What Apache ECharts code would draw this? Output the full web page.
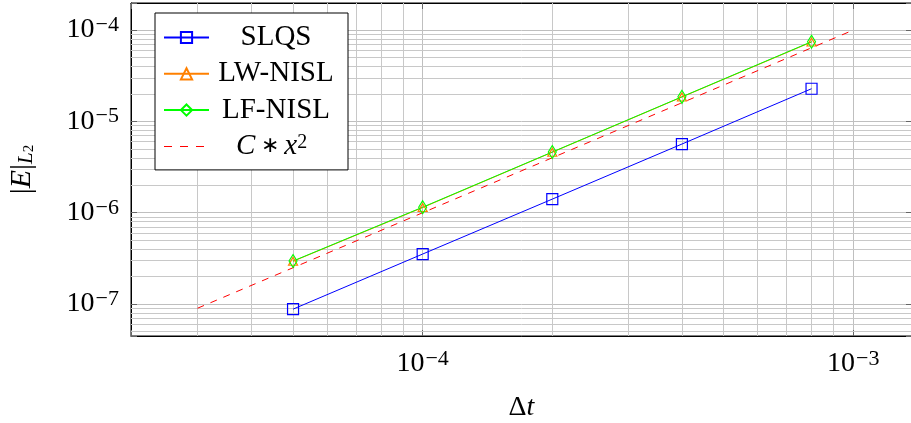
<!DOCTYPE html>
<html>
<head>
<meta charset="utf-8">
<script src="https://cdn.jsdelivr.net/npm/echarts@6/dist/echarts.min.js"></script>
<style>html,body{margin:0;padding:0;background:#fff}#main{width:911px;height:423px}</style>
</head>
<body>
<div id="main"></div>
<script>
// step sizes and errors
var dtList=[5e-5,1e-4,2e-4,4e-4,8e-4];
var slqsErr=[8.8e-8,3.53e-7,1.41e-6,5.65e-6,2.28e-5];
var lwErr=[2.94e-7,1.14e-6,4.6e-6,1.85e-5,7.4e-5];
var lfErr=[2.96e-7,1.15e-6,4.62e-6,1.86e-5,7.46e-5];
// reference line C*x^2
var refX=[3e-5,1e-3];
var refY=[9e-8,1e-4];
// axis ranges
var xLo=2.102e-5, xHi=1.369e-3;
var yLo=4.47e-8, yHi=1.98e-4;
// minor grid positions
var xMinor=[3e-5,4e-5,5e-5,6e-5,7e-5,8e-5,9e-5,2e-4,3e-4,4e-4,5e-4,6e-4,7e-4,8e-4,9e-4];
var yMinor=[5e-8,6e-8,7e-8,8e-8,9e-8,2e-7,3e-7,4e-7,5e-7,6e-7,7e-7,8e-7,9e-7,
  2e-6,3e-6,4e-6,5e-6,6e-6,7e-6,8e-6,9e-6,2e-5,3e-5,4e-5,5e-5,6e-5,7e-5,8e-5,9e-5];

var FONT='Liberation Serif';
var chart=echarts.init(document.getElementById('main'));

function pairs(xs,ys){
  var out=[];
  for(var i=0;i<xs.length;i++){out.push([xs[i],ys[i]]);}
  return out;
}
function powLabel(v){
  var l=Math.log10(v);
  var e=Math.round(l);
  if(Math.abs(l-e)>1e-6){return '';}
  return '{b|10}{s|−'+(-e)+'}';
}
var powRich={
  b:{fontFamily:FONT,fontSize:28,color:'#000',lineHeight:32},
  s:{fontFamily:FONT,fontSize:22,color:'#000',verticalAlign:'top',lineHeight:20,padding:[0,0,0,1]}
};

// minor grid segments spanning the axis range
var gridSegs=[];
xMinor.forEach(function(v){gridSegs.push({coords:[[v,yLo],[v,yHi]]});});
yMinor.forEach(function(v){gridSegs.push({coords:[[xLo,v],[xHi,v]]});});

// dashed icon for the reference line in the legend
var dashIcon='path://M0,0h0.05v0.05h-0.05zM0,6.5h8v1h-8zM16,6.5h8v1h-8zM32,6.5h8v1h-8zM44.95,13.95h0.05v0.05h-0.05z';

var option={
  animation:false,
  grid:{left:131,top:3,right:-1,bottom:87,outerBoundsMode:'none',containLabel:false,
    show:true,borderColor:'#000',borderWidth:1,backgroundColor:'#fff'},
  legend:{
    data:['SLQS','LW-NISL','LF-NISL',{name:'C*x^2',icon:dashIcon}],
    left:155,top:13,orient:'vertical',
    backgroundColor:'#fff',borderColor:'#000',borderWidth:1,borderRadius:0,
    padding:[10,10,9,8],
    itemWidth:45,itemHeight:14,itemGap:7.3,
    formatter:function(n){
      if(n==='C*x^2'){return '{i0|C}{t| ∗ }{i|x}{s|2}';}
      return '{c|'+n+'}';
    },
    textStyle:{
      fontFamily:FONT,fontSize:28,color:'#000',
      rich:{
        c:{fontFamily:FONT,fontSize:29,width:124,align:'center',lineHeight:28},
        i0:{fontFamily:FONT,fontSize:29,fontStyle:'italic',lineHeight:28,padding:[0,0,0,22]},
        i:{fontFamily:FONT,fontSize:29,fontStyle:'italic',lineHeight:28},
        t:{fontFamily:FONT,fontSize:22,lineHeight:28},
        s:{fontFamily:FONT,fontSize:20,verticalAlign:'top',lineHeight:19}
      }
    }
  },
  xAxis:[{
    type:'log',logBase:10,min:xLo,max:xHi,
    name:'Δ{i|t}',nameLocation:'middle',nameGap:58,
    nameTextStyle:{fontFamily:FONT,fontSize:28,color:'#000',
      rich:{i:{fontFamily:FONT,fontSize:28,fontStyle:'italic'}}},
    axisLine:{show:true,lineStyle:{color:'#000',width:1}},
    axisTick:{show:true,inside:true,length:6,lineStyle:{color:'#666'}},
    axisLabel:{formatter:powLabel,margin:12,rich:powRich},
    splitLine:{show:true,showMinLine:false,showMaxLine:false,lineStyle:{color:'#bfbfbf',width:1}}
  },{
    type:'log',logBase:10,min:xLo,max:xHi,position:'top',
    axisLine:{show:true,lineStyle:{color:'#000',width:1}},
    axisTick:{show:true,inside:true,length:6,lineStyle:{color:'#666'}},
    axisLabel:{show:false},splitLine:{show:false}
  }],
  yAxis:[{
    type:'log',logBase:10,min:yLo,max:yHi,
    name:'|{i|E}|{sub|L}{sub2|2}',nameLocation:'middle',nameGap:94,nameRotate:90,
    nameTextStyle:{fontFamily:FONT,fontSize:30,color:'#000',
      rich:{
        i:{fontFamily:FONT,fontSize:30,fontStyle:'italic'},
        sub:{fontFamily:FONT,fontSize:21,fontStyle:'italic',verticalAlign:'bottom',padding:[8,0,0,0]},
        sub2:{fontFamily:FONT,fontSize:15,verticalAlign:'bottom',padding:[12,0,0,0]}
      }},
    axisLine:{show:true,lineStyle:{color:'#000',width:1}},
    axisTick:{show:true,inside:true,length:6,lineStyle:{color:'#666'}},
    axisLabel:{formatter:powLabel,margin:12,rich:powRich},
    splitLine:{show:true,showMinLine:false,showMaxLine:false,lineStyle:{color:'#bfbfbf',width:1}}
  },{
    type:'log',logBase:10,min:yLo,max:yHi,position:'right',
    axisLine:{show:true,lineStyle:{color:'#000',width:1}},
    axisTick:{show:true,inside:true,length:6,lineStyle:{color:'#666'}},
    axisLabel:{show:false},splitLine:{show:false}
  }],
  series:[
    {
      name:'minorGrid',type:'lines',coordinateSystem:'cartesian2d',z:1,silent:true,
      polyline:false,effect:{show:false},
      lineStyle:{color:'#c8c8c8',width:1,opacity:1,curveness:0},
      data:gridSegs
    },
    {
      name:'SLQS',type:'line',data:pairs(dtList,slqsErr),z:3,
      symbol:'rect',symbolSize:11,
      lineStyle:{color:'#0000ff',width:1},
      itemStyle:{color:'rgba(0,0,0,0)',borderColor:'#0000ff',borderWidth:1.2}
    },
    {
      name:'LW-NISL',type:'line',data:pairs(dtList,lwErr),z:3,
      symbol:'triangle',symbolSize:[9,8],
      lineStyle:{color:'#ff8000',width:1},
      itemStyle:{color:'rgba(0,0,0,0)',borderColor:'#ff8000',borderWidth:1.2}
    },
    {
      name:'LF-NISL',type:'line',data:pairs(dtList,lfErr),z:3,
      symbol:'diamond',symbolSize:[8,13],
      lineStyle:{color:'#00ff00',width:1},
      itemStyle:{color:'rgba(0,0,0,0)',borderColor:'#00ff00',borderWidth:1.2}
    },
    {
      name:'C*x^2',type:'line',data:pairs(refX,refY),z:3,
      symbol:'none',
      lineStyle:{color:'#ff0000',width:1,type:[7,7]},
      itemStyle:{color:'#ff0000'}
    }
  ]
};
chart.setOption(option);
</script>
</body>
</html>
